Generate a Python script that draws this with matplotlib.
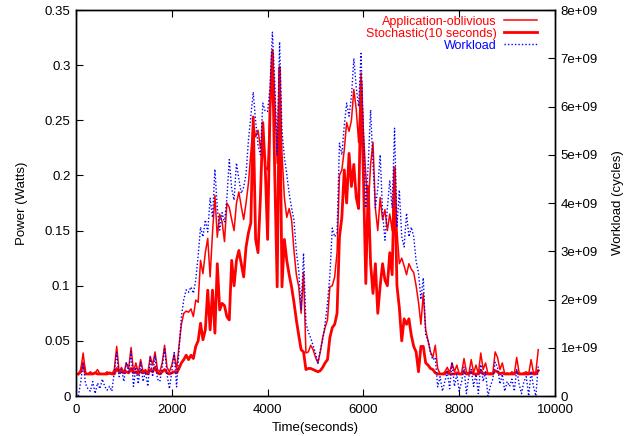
import numpy as np
import matplotlib
matplotlib.use("Agg")
import matplotlib.pyplot as plt

plt.rcParams['font.family'] = ['Liberation Sans', 'DejaVu Sans']

# sample times (seconds), one sample every 50 s
time = np.arange(50, 9700, 50)

# Application-oblivious power (W)
app_oblivious = [
    0.02, 0.024, 0.039, 0.02, 0.02, 0.022, 0.02, 0.021, 0.024, 0.02,
    0.02, 0.02, 0.022, 0.02, 0.02, 0.024, 0.045, 0.022, 0.026, 0.021,
    0.03, 0.025, 0.044, 0.022, 0.03, 0.021, 0.033, 0.022, 0.024, 0.021,
    0.036, 0.028, 0.04, 0.024, 0.022, 0.03, 0.046, 0.026, 0.022, 0.028,
    0.038, 0.024, 0.045, 0.065, 0.075, 0.077, 0.076, 0.079, 0.072, 0.087,
    0.085, 0.123, 0.111, 0.13, 0.143, 0.108, 0.148, 0.182, 0.144, 0.165,
    0.158, 0.14, 0.175, 0.171, 0.16, 0.15, 0.175, 0.185, 0.172, 0.16,
    0.175, 0.193, 0.22, 0.248, 0.235, 0.241, 0.225, 0.235, 0.208, 0.205,
    0.26, 0.314, 0.27, 0.211, 0.298, 0.22, 0.18, 0.162, 0.17, 0.16,
    0.132, 0.11, 0.099, 0.075, 0.112, 0.039, 0.04, 0.046, 0.042, 0.035,
    0.03, 0.04, 0.053, 0.062, 0.069, 0.099, 0.1, 0.108, 0.13, 0.2,
    0.205, 0.223, 0.248, 0.24, 0.25, 0.278, 0.26, 0.23, 0.293, 0.24,
    0.2, 0.17, 0.21, 0.23, 0.17, 0.15, 0.18, 0.16, 0.169, 0.15,
    0.165, 0.15, 0.205, 0.15, 0.12, 0.125, 0.118, 0.11, 0.12, 0.115,
    0.112, 0.1, 0.085, 0.065, 0.093, 0.06, 0.05, 0.04, 0.035, 0.046,
    0.025, 0.02, 0.02, 0.022, 0.026, 0.021, 0.03, 0.022, 0.028, 0.02,
    0.021, 0.034, 0.022, 0.02, 0.033, 0.021, 0.028, 0.02, 0.039, 0.024,
    0.03, 0.02, 0.021, 0.02, 0.04, 0.035, 0.024, 0.03, 0.02, 0.021,
    0.02, 0.022, 0.02, 0.035, 0.021, 0.02, 0.021, 0.022, 0.02, 0.033,
    0.021, 0.022, 0.042,
]

# Stochastic (10 seconds) power (W)
stochastic = [
    0.02, 0.022, 0.03, 0.02, 0.02, 0.02, 0.02, 0.021, 0.02, 0.02,
    0.02, 0.02, 0.02, 0.021, 0.02, 0.02, 0.025, 0.022, 0.022, 0.021,
    0.022, 0.021, 0.025, 0.021, 0.022, 0.02, 0.023, 0.021, 0.022, 0.02,
    0.024, 0.022, 0.026, 0.021, 0.02, 0.022, 0.024, 0.021, 0.02, 0.021,
    0.022, 0.021, 0.025, 0.03, 0.033, 0.037, 0.033, 0.037, 0.034, 0.045,
    0.05, 0.066, 0.051, 0.06, 0.096, 0.06, 0.096, 0.057, 0.12, 0.078,
    0.084, 0.082, 0.072, 0.069, 0.123, 0.1, 0.123, 0.132, 0.12, 0.108,
    0.135, 0.148, 0.157, 0.253, 0.142, 0.13, 0.18, 0.248, 0.208, 0.142,
    0.26, 0.312, 0.2, 0.099, 0.298, 0.099, 0.142, 0.123, 0.11, 0.099,
    0.085, 0.069, 0.055, 0.042, 0.04, 0.024, 0.025, 0.025, 0.024, 0.023,
    0.022, 0.023, 0.026, 0.03, 0.033, 0.053, 0.062, 0.065, 0.075, 0.144,
    0.162, 0.205, 0.175, 0.22, 0.19, 0.21, 0.18, 0.17, 0.285, 0.2,
    0.102, 0.19, 0.12, 0.093, 0.12, 0.075, 0.1, 0.12, 0.105, 0.1,
    0.13, 0.11, 0.207, 0.1, 0.08, 0.05, 0.07, 0.065, 0.07, 0.055,
    0.045, 0.04, 0.022, 0.045, 0.045, 0.03, 0.028, 0.025, 0.024, 0.021,
    0.02, 0.02, 0.02, 0.02, 0.022, 0.02, 0.02, 0.02, 0.021, 0.02,
    0.02, 0.022, 0.02, 0.02, 0.022, 0.02, 0.02, 0.02, 0.023, 0.02,
    0.021, 0.02, 0.02, 0.02, 0.023, 0.022, 0.02, 0.021, 0.02, 0.02,
    0.02, 0.02, 0.02, 0.022, 0.02, 0.02, 0.02, 0.02, 0.02, 0.021,
    0.02, 0.02, 0.023,
]

# Workload (1e9 cycles)
workload = [
    0.0, 0.3, 0.69, 0.25, 0.15, 0.1, 0.3, 0.05, 0.27, 0.15,
    0.35, 0.2, 0.12, 0.2, 0.1, 0.5, 0.9, 0.4, 0.55, 0.3,
    0.7, 0.5, 0.92, 0.2, 0.6, 0.25, 0.7, 0.3, 0.5, 0.2,
    0.8, 0.4, 0.85, 0.35, 0.3, 0.6, 1.0, 0.45, 0.15, 0.5,
    0.9, 0.19, 0.95, 1.64, 2.0, 2.2, 2.15, 2.26, 2.13, 2.4,
    2.9, 3.5, 3.3, 3.65, 3.4, 4.1, 3.7, 4.7, 3.9, 3.44,
    3.8, 3.6, 4.1, 4.9, 4.3, 4.06, 4.83, 4.5, 4.2, 4.33,
    4.6, 5.3, 5.8, 6.3, 5.7, 5.2, 5.0, 6.07, 5.9, 5.9,
    6.4, 7.54, 6.5, 5.0, 7.34, 5.5, 4.95, 4.6, 4.2, 3.9,
    3.65, 3.0, 2.6, 1.78, 2.96, 1.5, 1.33, 1.2, 1.05, 0.89,
    0.68, 0.95, 1.16, 1.5, 1.93, 2.5, 3.48, 3.3, 3.38, 5.24,
    5.0, 5.6, 6.07, 5.8, 6.2, 7.0, 6.4, 6.0, 7.1, 5.5,
    3.9, 4.8, 5.93, 4.8, 3.9, 4.3, 5.0, 3.8, 3.23, 3.9,
    4.47, 3.9, 5.55, 3.5, 4.27, 3.3, 3.09, 3.79, 3.3, 3.5,
    3.3, 2.8, 2.55, 2.0, 2.45, 1.26, 1.16, 0.9, 0.75, 0.8,
    0.19, 0.4, 0.1, 0.3, 0.5, 0.15, 0.7, 0.2, 0.45, 0.1,
    0.3, 0.6, 0.05, 0.4, 0.55, 0.2, 0.45, 0.05, 0.65, 0.3,
    0.5, 0.0, 0.2, 0.35, 0.7, 0.6, 0.25, 0.45, 0.1, 0.3,
    0.2, 0.35, 0.1, 0.55, 0.25, 0.05, 0.3, 0.4, 0.0, 0.5,
    0.2, 0.0, 0.64,
]

x_ticks = [0, 2000, 4000, 6000, 8000, 10000]
y_ticks = [0, 0.05, 0.1, 0.15, 0.2, 0.25, 0.3, 0.35]
y_labels = ['0', '0.05', '0.1', '0.15', '0.2', '0.25', '0.3', '0.35']
y2_ticks = [0, 1, 2, 3, 4, 5, 6, 7, 8]
y2_labels = ['0'] + ['%de+09' % v for v in y2_ticks[1:]]

fig = plt.figure(figsize=(6.29, 4.36), dpi=100)
ax = fig.add_axes([0.1208, 0.0917, 0.7616, 0.8853])
ax2 = ax.twinx()

l1, = ax.plot(time, app_oblivious, color='#ff0000', lw=1.1)
l2, = ax.plot(time, stochastic, color='#ff0000', lw=2.0)
l3, = ax2.plot(time, np.array(workload) * 1e9, color='#0000ff', lw=1.0,
               linestyle=(0, (1, 1.5)))

ax.set_xlim(0, 10000)
ax.set_ylim(0, 0.35)
ax2.set_ylim(0, 8e9)

ax.set_xticks(x_ticks)
ax.set_xticklabels([str(v) for v in x_ticks])
ax.set_yticks(y_ticks)
ax.set_yticklabels(y_labels)
ax2.set_yticks([v * 1e9 for v in y2_ticks])
ax2.set_yticklabels(y2_labels)

ax.tick_params(axis='x', direction='in', top=True, length=5, labelsize=9.5, pad=6)
ax.tick_params(axis='y', direction='in', right=False, length=5, labelsize=9.5, pad=4)
ax2.tick_params(axis='y', direction='in', length=5, labelsize=9.5, pad=4)
for a in (ax, ax2):
    for s in a.spines.values():
        s.set_linewidth(1.0)

ax.set_xlabel('Time(seconds)', fontsize=9.5, labelpad=4)
ax.set_ylabel('Power (Watts)', fontsize=9.5, labelpad=12)
ax2.set_ylabel('Workload (cycles)', fontsize=9.5, labelpad=10)

leg = ax2.legend([l1, l2, l3],
                 ['Application-oblivious', 'Stochastic(10 seconds)', 'Workload'],
                 loc='upper right', bbox_to_anchor=(0.98, 1.008), frameon=False,
                 markerfirst=False, fontsize=9, handlelength=2.6,
                 handletextpad=0.6, labelspacing=0.0, borderpad=0.2)
for txt, c in zip(leg.get_texts(), ['#ff0000', '#ff0000', '#0000ff']):
    txt.set_color(c)

fig.savefig('out.png', dpi=100)
